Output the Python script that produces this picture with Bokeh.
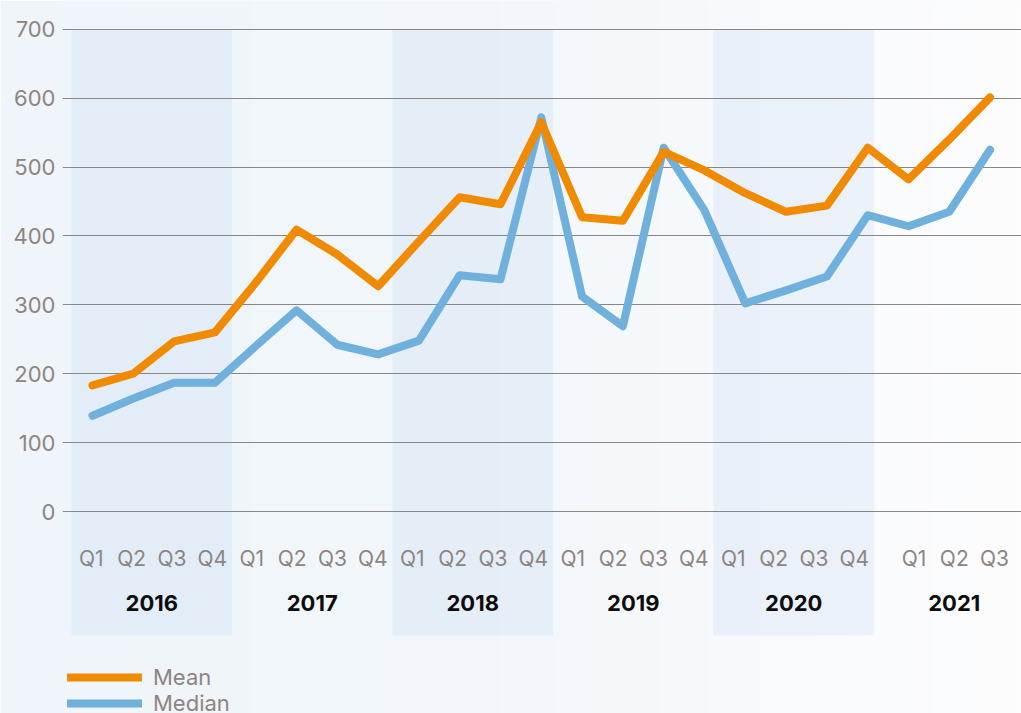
import numpy as np
from bokeh.plotting import figure
from bokeh.models import Range1d, FixedTicker, Legend, LegendItem, ColumnDataSource
from bokeh.core.properties import value
from bokeh.embed import file_html
from bokeh.resources import INLINE

# ---------------- data ----------------
years = ["2016", "2017", "2018", "2019", "2020", "2021"]
quarters_per_year = [4, 4, 4, 4, 4, 3]
quarter_names = ["Q1", "Q2", "Q3", "Q4"]
mean = [183, 200, 247, 260, 332, 409, 373, 327, 392, 456, 446, 565,
        427, 422, 522, 495, 462, 435, 444, 528, 482, 540, 601]
median = [139, 164, 187, 187, 240, 292, 242, 228, 248, 343, 337, 572,
          312, 269, 528, 437, 302, 321, 341, 430, 414, 435, 525]
y_ticks = [0, 100, 200, 300, 400, 500, 600, 700]

# ---------------- layout ----------------
W, H = 1021, 713
LEFT = 62
PX_Q = 40.8            # px per quarter
X0 = 92                # px of first quarter
ZERO_PX, TOP_PX = 511, 28.7
PPU = (ZERO_PX - TOP_PX) / 700.0

x_start = (LEFT - X0) / PX_Q
x_end = x_start + (W - LEFT) / PX_Q
y_end = ZERO_PX / PPU
y_start = -(H - ZERO_PX) / PPU

GRAY = "#8d8581"
FONT = "Inter"

p = figure(width=W, height=H, x_range=Range1d(x_start, x_end),
           y_range=Range1d(y_start, y_end), output_backend="svg",
           toolbar_location=None, x_axis_location=None, y_axis_location="left",
           min_border_left=LEFT, min_border_right=0, min_border_top=0,
           min_border_bottom=0, border_fill_color="#eff5fa",
           background_fill_color="#f3f7fb", outline_line_color=None)

# background gradient
ncols = 500
pxs = np.linspace(LEFT, W, ncols)
stops = [0, 500, W]
r = np.interp(pxs, stops, [239, 243, 253])
g = np.interp(pxs, stops, [245, 247, 253])
b = np.interp(pxs, stops, [250, 251, 254])
img = np.zeros((1, ncols), dtype=np.uint32)
view = img.view(dtype=np.uint8).reshape((1, ncols, 4))
view[0, :, 0] = r.astype(np.uint8)
view[0, :, 1] = g.astype(np.uint8)
view[0, :, 2] = b.astype(np.uint8)
view[0, :, 3] = 255
p.image_rgba(image=[img], x=x_start, y=y_start, dw=x_end - x_start,
             dh=y_end - y_start, level="image")

# year bands
BAND_W = 160.5 / PX_Q
BAND_O = (71 - X0) / PX_Q
band_bottom = -(635 - ZERO_PX) / PPU
bl = [BAND_O + k * BAND_W for k in range(len(years)) if k % 2 == 0]
p.quad(left=bl, right=[v + BAND_W for v in bl], top=700, bottom=band_bottom,
       fill_color="#78a6dd", fill_alpha=0.1, line_color=None, level="image")

# grid / axis
p.xgrid.visible = False
p.ygrid.ticker = FixedTicker(ticks=y_ticks)
p.ygrid.grid_line_color = "#8a8686"
p.ygrid.grid_line_width = 1
p.yaxis.ticker = FixedTicker(ticks=y_ticks)
p.yaxis.axis_line_color = None
p.yaxis.major_tick_line_color = None
p.yaxis.minor_tick_line_color = None
p.yaxis.major_tick_out = 0
p.yaxis.major_tick_in = 0
p.yaxis.major_label_standoff = 7
p.yaxis.major_label_text_font = FONT
p.yaxis.major_label_text_font_size = "22px"
p.yaxis.major_label_text_color = GRAY

# quarter and year labels
QSTEP = 40.3 / PX_Q
qx, qt, yx = [], [], []
for k, (yr, n) in enumerate(zip(years, quarters_per_year)):
    center = BAND_O + (k + 0.5) * BAND_W
    yx.append(center)
    for q in range(n):
        qx.append(center + (q - (n - 1) / 2.0) * QSTEP)
        qt.append(quarter_names[q])
p.text(x=qx, y=-(558 - ZERO_PX) / PPU, text=qt, text_align="center",
       text_baseline="middle", text_font=value(FONT), text_font_size="21px",
       text_color=GRAY)
p.text(x=yx, y=-(602 - ZERO_PX) / PPU, text=years, text_align="center",
       text_baseline="middle", text_font=value(FONT), text_font_size="22px",
       text_font_style="bold", text_color="#0d0d0d")

# lines
idx = list(range(len(mean)))
src = ColumnDataSource(dict(x=idx, mean=mean, median=median))
r_med = p.line("x", "median", source=src, line_color="#6fb0dc", line_width=8,
               line_cap="round", line_join="round")
r_mean = p.line("x", "mean", source=src, line_color="#f08a00", line_width=8,
                line_cap="round", line_join="round")

legend = Legend(items=[LegendItem(label="Mean", renderers=[r_mean]),
                       LegendItem(label="Median", renderers=[r_med])],
                location=(5, -3), orientation="vertical",
                glyph_width=75, glyph_height=20, label_height=20,
                label_standoff=11, spacing=0, padding=0, margin=0,
                background_fill_alpha=0, border_line_alpha=0,
                label_text_font=FONT, label_text_font_size="22px",
                label_text_color=GRAY)
p.add_layout(legend)

open("out.html", "w").write(file_html(p, INLINE))
